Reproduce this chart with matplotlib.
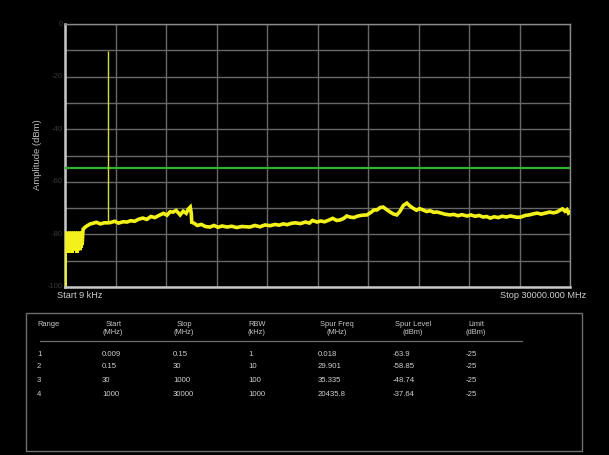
import matplotlib
matplotlib.use("Agg")
import matplotlib.pyplot as plt
from matplotlib.lines import Line2D
from matplotlib.patches import Rectangle

plt.rcParams['font.family'] = ['Liberation Sans', 'DejaVu Sans']

# ---- data (display sweep point 0..1000, amplitude dBm) ----
trace_x = [0, 0.5, 1, 2, 3, 4, 5, 6, 7, 8, 9, 10, 11, 12, 13, 14, 15, 16, 17, 18,
           19, 20, 21, 22, 23, 24, 25, 26, 27, 28, 29, 30, 31, 32, 33, 34, 35,
           36, 40, 45, 50, 55, 62, 70, 78, 85, 90, 98, 106, 115, 123,
           130, 138, 146, 154, 162, 170, 178, 188, 195, 202, 208, 214, 220, 228, 234,
           240, 244, 248, 250, 251, 256, 262, 270, 278, 287, 295, 303, 311, 321, 330,
           340, 350, 366, 376, 386, 396, 406, 416, 424, 432, 440, 448, 456, 466, 476,
           484, 490, 499, 506, 514, 522, 530, 538, 545, 552, 558, 564, 572, 580, 589,
           598, 606, 612, 618, 624, 630, 637, 644, 650, 657, 663, 670, 677, 683, 689,
           696, 702, 709, 716, 723, 730, 737, 745, 752, 762, 770, 778, 786, 796, 804,
           812, 820, 828, 835, 842, 850, 858, 866, 874, 882, 895, 903, 911, 919, 927,
           935, 943, 951, 960, 967, 974, 980, 985, 990, 994, 997, 1000]
trace_y = [-99, -80, -79, -86, -80, -85, -79, -86, -80, -87, -79, -85, -80, -86, -79,
           -87, -80, -86, -79, -86, -80, -85, -79, -86, -80, -87, -79, -86, -80, -85,
           -79, -86, -80, -85, -79, -84, -80,
           -78.0, -77.2, -76.6, -76.0, -75.8, -75.4, -76.0, -75.6, -75.6,
           -75.5, -75.0, -75.7, -75.2, -75.3, -74.8, -75.0, -74.2, -73.8, -74.3,
           -73.2, -73.6, -72.6, -72.0, -72.7, -71.4, -71.5, -70.9, -72.6, -71.2, -72.0,
           -70.4, -69.6, -72.0, -75.4, -75.8, -76.6, -76.2, -77.0, -77.2, -76.6, -77.3,
           -76.8, -77.2, -76.9, -77.4, -77.0, -77.2, -76.6, -77.1, -76.4, -76.7, -76.2,
           -76.5, -76.0, -76.3, -75.8, -75.6, -75.9, -75.3, -75.7, -74.7, -75.3, -74.9,
           -75.2, -74.6, -73.9, -74.7, -74.5, -73.9, -73.0, -73.4, -73.6, -73.0, -72.7,
           -72.6, -71.6, -70.7, -70.7, -69.8, -69.6, -70.6, -71.5, -72.2, -72.6, -71.3,
           -69.0, -68.1, -69.2, -70.0, -70.8, -70.2, -70.7, -71.3, -71.0, -71.6, -71.5,
           -71.9, -72.3, -72.6, -72.4, -72.9, -72.5, -73.0, -72.6, -73.1, -72.8, -73.4,
           -73.2, -73.8, -73.3, -73.6, -73.1, -73.4, -73.0, -73.5, -73.4, -72.8, -72.6,
           -72.2, -71.9, -72.3, -71.9, -71.5, -71.8, -71.5, -70.8, -70.3, -71.2, -70.6,
           -71.9, -71.5]

spike_x = 85
spike_top = -10.2
spike_bottom = -75.6

limit_level = -54.8
y_ticks = [0, -20, -40, -60, -80, -100]

start_label = "Start 9 kHz"
stop_label = "Stop 30000.000 MHz"

col_headers = ["Range", "Start\n(MHz)", "Stop\n(MHz)", "RBW\n(kHz)",
               "Spur Freq\n(MHz)", "Spur Level\n(dBm)", "Limit\n(dBm)"]
range_ids = ["1", "2", "3", "4"]
start_mhz = ["0.009", "0.15", "30", "1000"]
stop_mhz = ["0.15", "30", "1000", "30000"]
rbw_khz = ["1", "10", "100", "1000"]
spur_freq = ["0.018", "29.901", "35.335", "20435.8"]
spur_level = ["-63.9", "-58.85", "-48.74", "-37.64"]
limit_dbm = ["-25", "-25", "-25", "-25"]

W, H = 609, 455
fig = plt.figure(figsize=(W / 100, H / 100), dpi=100, facecolor='black')

ax = fig.add_axes([65 / W, 1 - 287 / H, 505 / W, 263 / H], facecolor='black')
ax.set_xlim(0, 1000)
ax.set_ylim(-100, 0)
ax.set_xticks([i * 100 for i in range(11)])
ax.set_yticks([-i * 10 for i in range(11)])
ax.grid(True, color='#686868', linewidth=1.0)
ax.tick_params(axis='both', length=0, labelbottom=False, labelleft=False)
for s in ax.spines.values():
    s.set_color('#8a8a8a')
    s.set_linewidth(1.0)
ax.spines['left'].set_color('#c8c8c8')
ax.spines['left'].set_linewidth(1.8)
ax.spines['bottom'].set_color('#c8c8c8')
ax.spines['bottom'].set_linewidth(1.8)

ax.axhline(limit_level, color='#2fb52f', linewidth=1.6, zorder=3)
ax.vlines(spike_x, spike_bottom, spike_top, color='#d8e030', linewidth=1.0, zorder=4)
ax.plot(trace_x, trace_y, color='#f2f21a', linewidth=2.6, zorder=5,
        solid_joinstyle='miter')

for v in y_ticks:
    ax.text(-5, v, str(v), color='#383838', fontsize=5.5, ha='right', va='center',
            transform=ax.transData)

fig.text(37 / W, 1 - 155 / H, "Amplitude (dBm)", color='#bdbdbd', fontsize=6.8,
         rotation=90, ha='center', va='center')
fig.text(57 / W, 1 - 296 / H, start_label, color='#d0d0d0', fontsize=6.6,
         ha='left', va='center')
fig.text(586 / W, 1 - 296 / H, stop_label, color='#d0d0d0', fontsize=6.6,
         ha='right', va='center')

# table box
box = Rectangle((26 / W, 1 - 451 / H), 556 / W, 138 / H, transform=fig.transFigure,
                fill=False, edgecolor='#6e6e6e', linewidth=1.0)
fig.add_artist(box)
fig.add_artist(Line2D([40 / W, 522 / W], [1 - 341 / H, 1 - 341 / H],
                      transform=fig.transFigure, color='#6e6e6e', linewidth=0.9))

hdr_x = [37, 103, 174, 248, 320, 395, 466]
for cx, hdr in zip(hdr_x, col_headers):
    fig.text(cx / W, 1 - 321 / H, hdr, color='#c8c8c8', fontsize=5.4,
             ha='left', va='top', linespacing=1.1, multialignment='center')

col_x = [37, 102, 173, 248, 318, 393, 466]
cols = [range_ids, start_mhz, stop_mhz, rbw_khz, spur_freq, spur_level, limit_dbm]
row_y = [354, 367, 381, 394]
for cx, col in zip(col_x, cols):
    for ry, val in zip(row_y, col):
        fig.text(cx / W, 1 - ry / H, val, color='#cfcfcf', fontsize=5.6,
                 ha='left', va='center')

fig.savefig("out.png", dpi=100, facecolor='black')
